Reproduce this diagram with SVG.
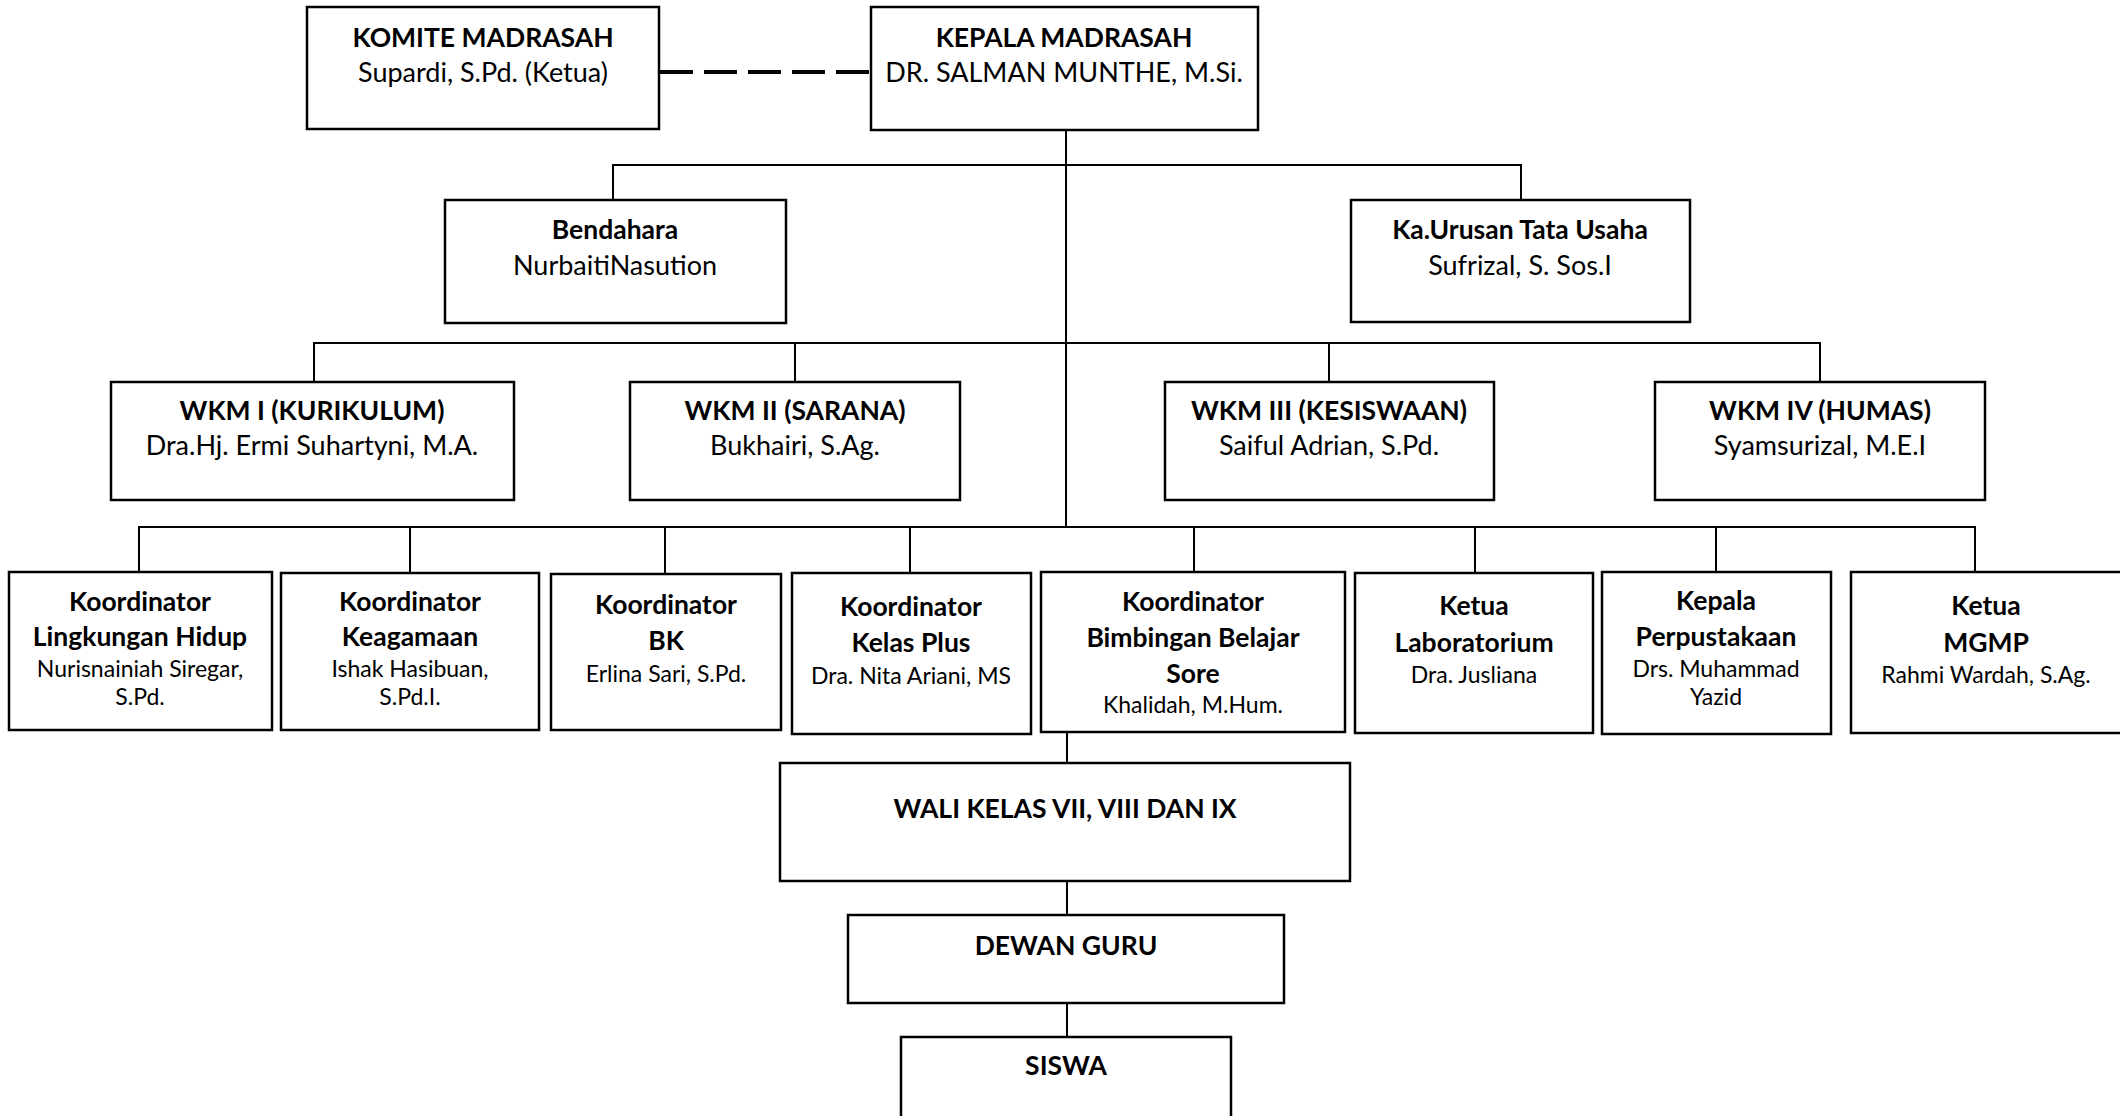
<svg xmlns="http://www.w3.org/2000/svg" width="2120" height="1116" viewBox="0 0 2120 1116">
<style>
  .box { fill: #ffffff; stroke: #000000; stroke-width: 2.5; }
  .ln { stroke: #000000; stroke-width: 2; fill: none; }
  .dash { stroke: #000000; stroke-width: 4; stroke-dasharray: 33 11; fill: none; }
  text { font-family: Lato, "Open Sans", "Liberation Sans", sans-serif; text-anchor: middle; fill: #000000; }
  .t { font-size: 26.5px; font-weight: bold; }
  .n { font-size: 27px; }
  .s { font-size: 23px; }
</style>
<rect x="0" y="0" width="2120" height="1116" fill="#ffffff"/>
<g id="connectors">
  <line class="dash" x1="660" y1="72" x2="870" y2="72"/>
  <line class="ln" x1="1066" y1="130" x2="1066" y2="528"/>
  <polyline class="ln" points="613,200 613,165 1521,165 1521,200"/>
  <polyline class="ln" points="314,382 314,343 1820,343 1820,382"/>
  <line class="ln" x1="795" y1="343" x2="795" y2="382"/>
  <line class="ln" x1="1329" y1="343" x2="1329" y2="382"/>
  <polyline class="ln" points="139,572 139,527 1975,527 1975,572"/>
  <line class="ln" x1="410" y1="527" x2="410" y2="573"/>
  <line class="ln" x1="665" y1="527" x2="665" y2="574"/>
  <line class="ln" x1="910" y1="527" x2="910" y2="573"/>
  <line class="ln" x1="1194" y1="527" x2="1194" y2="572"/>
  <line class="ln" x1="1475" y1="527" x2="1475" y2="573"/>
  <line class="ln" x1="1716" y1="527" x2="1716" y2="572"/>
  <line class="ln" x1="1067" y1="732" x2="1067" y2="763"/>
  <line class="ln" x1="1067" y1="881" x2="1067" y2="915"/>
  <line class="ln" x1="1067" y1="1003" x2="1067" y2="1037"/>
</g>
<g id="komite">
  <rect class="box" x="307" y="7" width="352" height="122"/>
  <text class="t" x="483" y="47">KOMITE MADRASAH</text>
  <text class="n" x="483" y="82">Supardi, S.Pd. (Ketua)</text>
</g>
<g id="kepala">
  <rect class="box" x="871" y="7" width="387" height="123"/>
  <text class="t" x="1064" y="47">KEPALA MADRASAH</text>
  <text class="n" x="1064" y="82">DR. SALMAN MUNTHE, M.Si.</text>
</g>
<g id="bendahara">
  <rect class="box" x="445" y="200" width="341" height="123"/>
  <text class="t" x="615" y="239">Bendahara</text>
  <text class="n" x="615" y="275">NurbaitiNasution</text>
</g>
<g id="tatausaha">
  <rect class="box" x="1351" y="200" width="339" height="122"/>
  <text class="t" x="1520" y="239">Ka.Urusan Tata Usaha</text>
  <text class="n" x="1520" y="275">Sufrizal, S. Sos.I</text>
</g>
<g id="wkm1">
  <rect class="box" x="111" y="382" width="403" height="118"/>
  <text class="t" x="312" y="420">WKM I (KURIKULUM)</text>
  <text class="n" x="312" y="455">Dra.Hj. Ermi Suhartyni, M.A.</text>
</g>
<g id="wkm2">
  <rect class="box" x="630" y="382" width="330" height="118"/>
  <text class="t" x="795" y="420">WKM II (SARANA)</text>
  <text class="n" x="795" y="455">Bukhairi, S.Ag.</text>
</g>
<g id="wkm3">
  <rect class="box" x="1165" y="382" width="329" height="118"/>
  <text class="t" x="1329" y="420">WKM III (KESISWAAN)</text>
  <text class="n" x="1329" y="455">Saiful Adrian, S.Pd.</text>
</g>
<g id="wkm4">
  <rect class="box" x="1655" y="382" width="330" height="118"/>
  <text class="t" x="1820" y="420">WKM IV (HUMAS)</text>
  <text class="n" x="1820" y="455">Syamsurizal, M.E.I</text>
</g>
<g id="koord-lh">
  <rect class="box" x="9" y="572" width="263" height="158"/>
  <text class="t" x="140" y="611">Koordinator</text>
  <text class="t" x="140" y="646">Lingkungan Hidup</text>
  <text class="s" x="140" y="677">Nurisnainiah Siregar,</text>
  <text class="s" x="140" y="705">S.Pd.</text>
</g>
<g id="koord-keagamaan">
  <rect class="box" x="281" y="573" width="258" height="157"/>
  <text class="t" x="410" y="611">Koordinator</text>
  <text class="t" x="410" y="646">Keagamaan</text>
  <text class="s" x="410" y="677">Ishak Hasibuan,</text>
  <text class="s" x="410" y="705">S.Pd.I.</text>
</g>
<g id="koord-bk">
  <rect class="box" x="551" y="574" width="230" height="156"/>
  <text class="t" x="666" y="614">Koordinator</text>
  <text class="t" x="666" y="650">BK</text>
  <text class="s" x="666" y="682">Erlina Sari, S.Pd.</text>
</g>
<g id="koord-kelasplus">
  <rect class="box" x="792" y="573" width="239" height="161"/>
  <text class="t" x="911" y="616">Koordinator</text>
  <text class="t" x="911" y="652">Kelas Plus</text>
  <text class="s" x="911" y="684">Dra. Nita Ariani, MS</text>
</g>
<g id="koord-bbs">
  <rect class="box" x="1041" y="572" width="304" height="160"/>
  <text class="t" x="1193" y="611">Koordinator</text>
  <text class="t" x="1193" y="647">Bimbingan Belajar</text>
  <text class="t" x="1193" y="683">Sore</text>
  <text class="s" x="1193" y="713">Khalidah, M.Hum.</text>
</g>
<g id="ketua-lab">
  <rect class="box" x="1355" y="573" width="238" height="160"/>
  <text class="t" x="1474" y="615">Ketua</text>
  <text class="t" x="1474" y="652">Laboratorium</text>
  <text class="s" x="1474" y="683">Dra. Jusliana</text>
</g>
<g id="kepala-perpus">
  <rect class="box" x="1602" y="572" width="229" height="162"/>
  <text class="t" x="1716" y="610">Kepala</text>
  <text class="t" x="1716" y="646">Perpustakaan</text>
  <text class="s" x="1716" y="677">Drs. Muhammad</text>
  <text class="s" x="1716" y="705">Yazid</text>
</g>
<g id="ketua-mgmp">
  <rect class="box" x="1851" y="572" width="280" height="161"/>
  <text class="t" x="1986" y="615">Ketua</text>
  <text class="t" x="1986" y="652">MGMP</text>
  <text class="s" x="1986" y="683">Rahmi Wardah, S.Ag.</text>
</g>
<g id="walikelas">
  <rect class="box" x="780" y="763" width="570" height="118"/>
  <text class="t" x="1065" y="818">WALI KELAS VII, VIII DAN IX</text>
</g>
<g id="dewanguru">
  <rect class="box" x="848" y="915" width="436" height="88"/>
  <text class="t" x="1066" y="955">DEWAN GURU</text>
</g>
<g id="siswa">
  <rect class="box" x="901" y="1037" width="330" height="100"/>
  <text class="t" x="1066" y="1075">SISWA</text>
</g>
</svg>
